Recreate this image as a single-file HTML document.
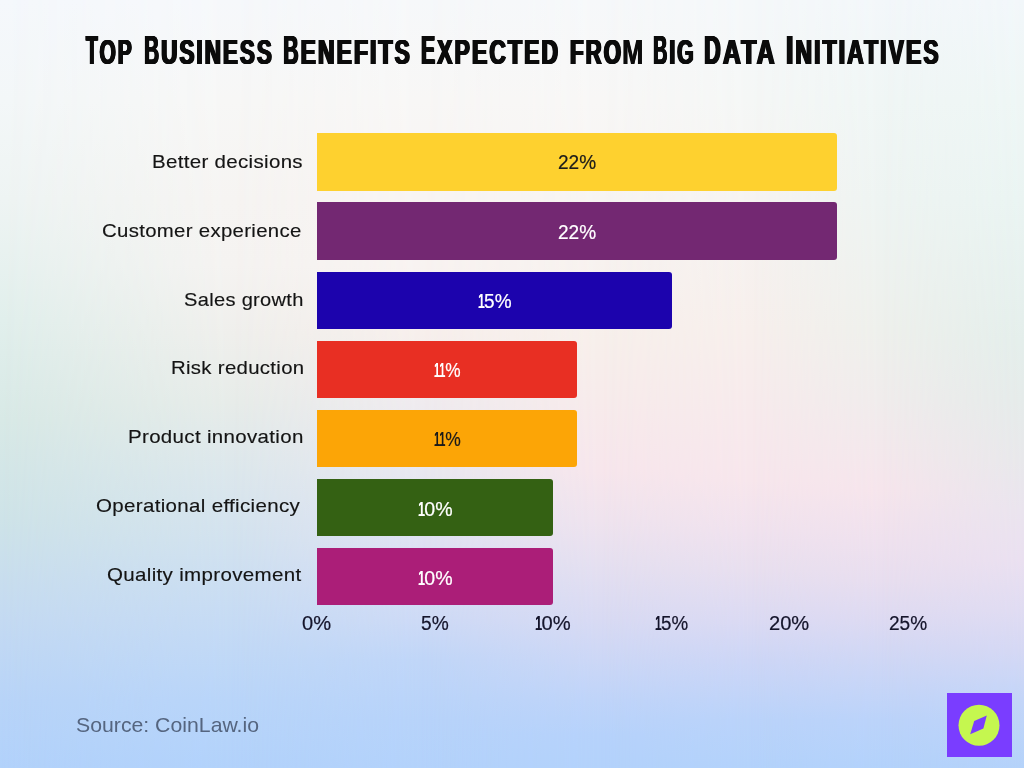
<!DOCTYPE html>
<html lang="en"><head><meta charset="utf-8"><title>Top Business Benefits Expected from Big Data Initiatives</title>
<style>
html,body{margin:0;padding:0}
body{width:1024px;height:768px;overflow:hidden;position:relative;font-family:"Liberation Sans",sans-serif;color:#141414;
background:linear-gradient(180deg,#f6f8fa 0%,#f8f3f1 35%,#e8e8f0 61%,#c0d6f8 86%,#b3d2fb 100%)}
.bg{position:absolute;left:0;top:0;width:1024px;height:768px;display:block}
.bar{position:absolute;left:317.1px;height:57.5px;border-radius:0 3px 3px 0}
.t{position:absolute;white-space:nowrap;transform-origin:0 50%}
.lab{font-size:19px;line-height:24px;letter-spacing:.3px;-webkit-text-stroke:.15px #141414}
.num{font-size:19.6px;line-height:24px;-webkit-text-stroke:.2px currentColor}
.num b{display:inline-block;font-weight:400;transform:scaleX(.64);margin:0 -2.1px 0 -2.5px;text-shadow:-.5px 0 0 currentColor,.5px 0 0 currentColor}
.src{font-size:20.6px;line-height:24px;color:#55657f}
.logo{position:absolute;left:947.1px;top:692.8px;width:64.8px;height:63.8px;background:#7a3dff}
.w{font-weight:700;font-size:40.1px;line-height:48px;color:#0b0b0b;letter-spacing:3.2px;
 text-shadow:-1.4px 0 0 #0b0b0b,1.4px 0 0 #0b0b0b,-0.7px 0 0 #0b0b0b,0.7px 0 0 #0b0b0b}
.w i{font-style:normal;font-size:34.4px;text-transform:uppercase}
.w b{display:inline-block;transform:scaleX(.8);margin:0 -2.8px}
.w b.m{transform:scaleX(1.14);margin:0 1.2px;text-shadow:-.5px 0 0 #0b0b0b,.5px 0 0 #0b0b0b}
h1{margin:0;padding:0;font-size:inherit;font-weight:inherit}
</style></head>
<body>
<svg class="bg" width="1024" height="768" viewBox="0 0 1024 768" preserveAspectRatio="none"><defs><linearGradient id="c0" x1="0" y1="0" x2="0" y2="768" gradientUnits="userSpaceOnUse"><stop offset="0.0000" stop-color="#f5f8fc"/><stop offset="0.1302" stop-color="#f3f7f8"/><stop offset="0.2604" stop-color="#eef4f3"/><stop offset="0.4167" stop-color="#e1efec"/><stop offset="0.5469" stop-color="#d8e9e6"/><stop offset="0.6771" stop-color="#cee3e8"/><stop offset="0.8073" stop-color="#c4daf2"/><stop offset="0.9115" stop-color="#b8d4f8"/><stop offset="1.0000" stop-color="#b2d2fb"/></linearGradient><linearGradient id="c1" x1="0" y1="0" x2="0" y2="768" gradientUnits="userSpaceOnUse"><stop offset="0.0000" stop-color="#f6f8fb"/><stop offset="0.1302" stop-color="#f7f7f6"/><stop offset="0.2604" stop-color="#f6f4f2"/><stop offset="0.3451" stop-color="#f5f3f1"/><stop offset="0.4349" stop-color="#efefec"/><stop offset="0.5247" stop-color="#e7ece9"/><stop offset="0.6146" stop-color="#dce7ec"/><stop offset="0.7044" stop-color="#d2e2ef"/><stop offset="0.8073" stop-color="#c6dbf4"/><stop offset="0.9115" stop-color="#b9d5f9"/><stop offset="1.0000" stop-color="#b2d2fb"/></linearGradient><linearGradient id="c2" x1="0" y1="0" x2="0" y2="768" gradientUnits="userSpaceOnUse"><stop offset="0.0000" stop-color="#f6f8fa"/><stop offset="0.1302" stop-color="#f8f7f6"/><stop offset="0.2552" stop-color="#f8f4f2"/><stop offset="0.3451" stop-color="#f8f3f1"/><stop offset="0.4349" stop-color="#f7efec"/><stop offset="0.5247" stop-color="#efebef"/><stop offset="0.6146" stop-color="#e8e8f0"/><stop offset="0.7044" stop-color="#dfe2f3"/><stop offset="0.8073" stop-color="#cddaf6"/><stop offset="0.8594" stop-color="#c0d6f8"/><stop offset="0.9375" stop-color="#b7d3fa"/><stop offset="1.0000" stop-color="#b3d2fb"/></linearGradient><linearGradient id="c3" x1="0" y1="0" x2="0" y2="768" gradientUnits="userSpaceOnUse"><stop offset="0.0000" stop-color="#f6f8fa"/><stop offset="0.1302" stop-color="#f8f7f6"/><stop offset="0.2604" stop-color="#f7f4f2"/><stop offset="0.4427" stop-color="#f7efeb"/><stop offset="0.5208" stop-color="#f7ebeb"/><stop offset="0.6120" stop-color="#f7e6ec"/><stop offset="0.6771" stop-color="#efe3ee"/><stop offset="0.7292" stop-color="#e6e0f0"/><stop offset="0.8073" stop-color="#d8daf3"/><stop offset="0.8594" stop-color="#ccd7f6"/><stop offset="0.9115" stop-color="#bfd4f9"/><stop offset="0.9570" stop-color="#b6d2fb"/><stop offset="1.0000" stop-color="#b3d2fb"/></linearGradient><linearGradient id="c4" x1="0" y1="0" x2="0" y2="768" gradientUnits="userSpaceOnUse"><stop offset="0.0000" stop-color="#f5f8fa"/><stop offset="0.1302" stop-color="#f5f7f6"/><stop offset="0.2604" stop-color="#f6f3f1"/><stop offset="0.4297" stop-color="#f7efec"/><stop offset="0.6250" stop-color="#f7e6ec"/><stop offset="0.6901" stop-color="#f0e2ee"/><stop offset="0.7422" stop-color="#e8dfef"/><stop offset="0.8073" stop-color="#dbdaf3"/><stop offset="0.8594" stop-color="#cdd6f6"/><stop offset="0.9375" stop-color="#bad3fa"/><stop offset="1.0000" stop-color="#b3d2fb"/></linearGradient><linearGradient id="c5" x1="0" y1="0" x2="0" y2="768" gradientUnits="userSpaceOnUse"><stop offset="0.0000" stop-color="#f3f7fa"/><stop offset="0.1302" stop-color="#f0f6f5"/><stop offset="0.2604" stop-color="#eef4f2"/><stop offset="0.4297" stop-color="#eef0ec"/><stop offset="0.5208" stop-color="#f0ecec"/><stop offset="0.6380" stop-color="#f6e5ec"/><stop offset="0.7031" stop-color="#efe1ee"/><stop offset="0.7552" stop-color="#e8deef"/><stop offset="0.8073" stop-color="#dddaf2"/><stop offset="0.8594" stop-color="#cfd7f5"/><stop offset="0.9375" stop-color="#bbd3fa"/><stop offset="1.0000" stop-color="#b3d2fb"/></linearGradient><linearGradient id="c6" x1="0" y1="0" x2="0" y2="768" gradientUnits="userSpaceOnUse"><stop offset="0.0000" stop-color="#f2f7fa"/><stop offset="0.1302" stop-color="#eef6f5"/><stop offset="0.2604" stop-color="#eaf4f2"/><stop offset="0.4427" stop-color="#e4eeeb"/><stop offset="0.5208" stop-color="#e5ebea"/><stop offset="0.5990" stop-color="#e8e8eb"/><stop offset="0.6641" stop-color="#eae4ee"/><stop offset="0.7292" stop-color="#eae0f0"/><stop offset="0.7943" stop-color="#e0dcf2"/><stop offset="0.8464" stop-color="#d5d8f4"/><stop offset="0.9115" stop-color="#c3d5f8"/><stop offset="1.0000" stop-color="#b4d2fa"/></linearGradient><linearGradient id="r1" x1="0" y1="0" x2="230" y2="0" gradientUnits="userSpaceOnUse"><stop offset="0" stop-color="#000"/><stop offset="1" stop-color="#fff"/></linearGradient><mask id="m1" maskUnits="userSpaceOnUse" x="0" y="0" width="1024" height="768"><rect x="0" y="0" width="1024" height="768" fill="url(#r1)"/></mask><linearGradient id="r2" x1="230" y1="0" x2="420" y2="0" gradientUnits="userSpaceOnUse"><stop offset="0" stop-color="#000"/><stop offset="1" stop-color="#fff"/></linearGradient><mask id="m2" maskUnits="userSpaceOnUse" x="0" y="0" width="1024" height="768"><rect x="0" y="0" width="1024" height="768" fill="url(#r2)"/></mask><linearGradient id="r3" x1="420" y1="0" x2="600" y2="0" gradientUnits="userSpaceOnUse"><stop offset="0" stop-color="#000"/><stop offset="1" stop-color="#fff"/></linearGradient><mask id="m3" maskUnits="userSpaceOnUse" x="0" y="0" width="1024" height="768"><rect x="0" y="0" width="1024" height="768" fill="url(#r3)"/></mask><linearGradient id="r4" x1="600" y1="0" x2="750" y2="0" gradientUnits="userSpaceOnUse"><stop offset="0" stop-color="#000"/><stop offset="1" stop-color="#fff"/></linearGradient><mask id="m4" maskUnits="userSpaceOnUse" x="0" y="0" width="1024" height="768"><rect x="0" y="0" width="1024" height="768" fill="url(#r4)"/></mask><linearGradient id="r5" x1="750" y1="0" x2="880" y2="0" gradientUnits="userSpaceOnUse"><stop offset="0" stop-color="#000"/><stop offset="1" stop-color="#fff"/></linearGradient><mask id="m5" maskUnits="userSpaceOnUse" x="0" y="0" width="1024" height="768"><rect x="0" y="0" width="1024" height="768" fill="url(#r5)"/></mask><linearGradient id="r6" x1="880" y1="0" x2="1024" y2="0" gradientUnits="userSpaceOnUse"><stop offset="0" stop-color="#000"/><stop offset="1" stop-color="#fff"/></linearGradient><mask id="m6" maskUnits="userSpaceOnUse" x="0" y="0" width="1024" height="768"><rect x="0" y="0" width="1024" height="768" fill="url(#r6)"/></mask></defs><rect width="1024" height="768" fill="url(#c0)"/><rect width="1024" height="768" fill="url(#c1)" mask="url(#m1)"/><rect width="1024" height="768" fill="url(#c2)" mask="url(#m2)"/><rect width="1024" height="768" fill="url(#c3)" mask="url(#m3)"/><rect width="1024" height="768" fill="url(#c4)" mask="url(#m4)"/><rect width="1024" height="768" fill="url(#c5)" mask="url(#m5)"/><rect width="1024" height="768" fill="url(#c6)" mask="url(#m6)"/></svg>
<div class="bar" style="top:133.3px;width:520.0px;background:#fed12f"></div>
<div class="bar" style="top:202.4px;width:520.0px;background:#732872"></div>
<div class="bar" style="top:271.5px;width:354.5px;background:#1c03ad"></div>
<div class="bar" style="top:340.6px;width:260.0px;background:#e82f23"></div>
<div class="bar" style="top:409.7px;width:260.0px;background:#fca506"></div>
<div class="bar" style="top:478.8px;width:236.4px;background:#346113"></div>
<div class="bar" style="top:547.9px;width:236.4px;background:#ab1e78"></div>
<h1><span class="t w" style="left:85.86px;top:25.55px;transform:scaleX(0.6101)"><b>T</b><i>op</i></span> <span class="t w" style="left:144.40px;top:25.55px;transform:scaleX(0.6497)"><b>B</b><i>usiness</i></span> <span class="t w" style="left:283.40px;top:25.55px;transform:scaleX(0.6640)"><b>B</b><i>enefits</i></span> <span class="t w" style="left:421.10px;top:25.55px;transform:scaleX(0.6650)"><b>E</b><i>xpected</i></span> <span class="t w" style="left:570.10px;top:25.55px;transform:scaleX(0.6465)"><i>fro<b class="m">m</b></i></span> <span class="t w" style="left:653.20px;top:25.55px;transform:scaleX(0.6153)"><b>B</b><i>ig</i></span> <span class="t w" style="left:704.40px;top:25.55px;transform:scaleX(0.7160)"><b>D</b><i>ata</i></span> <span class="t w" style="left:785.90px;top:25.55px;transform:scaleX(0.6642)">I<i>nitiatives</i></span></h1>
<div class="t lab" style="left:151.53px;top:149.62px;transform:scaleX(1.0783)">Better decisions</div>
<div class="t lab" style="left:102.04px;top:218.57px;transform:scaleX(1.0714)">Customer experience</div>
<div class="t lab" style="left:184.34px;top:287.52px;transform:scaleX(1.0555)">Sales growth</div>
<div class="t lab" style="left:171.10px;top:356.47px;transform:scaleX(1.0713)">Risk reduction</div>
<div class="t lab" style="left:127.96px;top:425.42px;transform:scaleX(1.0788)">Product innovation</div>
<div class="t lab" style="left:96.29px;top:494.37px;transform:scaleX(1.0798)">Operational efficiency</div>
<div class="t lab" style="left:106.72px;top:563.32px;transform:scaleX(1.0806)">Quality improvement</div>
<div class="t num" style="left:558.16px;top:150.42px;color:#1b1b1b;transform:scaleX(0.9712)">22%</div>
<div class="t num" style="left:558.16px;top:219.67px;color:#ffffff;transform:scaleX(0.9712)">22%</div>
<div class="t num" style="left:478.46px;top:288.92px;color:#ffffff;transform:scaleX(0.9700)"><b>1</b>5%</div>
<div class="t num" style="left:433.54px;top:358.17px;color:#ffffff;transform:scaleX(0.8814)"><b>1</b><b>1</b>%</div>
<div class="t num" style="left:433.54px;top:427.42px;color:#1b1b1b;transform:scaleX(0.8930)"><b>1</b><b>1</b>%</div>
<div class="t num" style="left:418.00px;top:496.67px;color:#ffffff;transform:scaleX(0.9994)"><b>1</b>0%</div>
<div class="t num" style="left:418.00px;top:565.92px;color:#ffffff;transform:scaleX(0.9994)"><b>1</b>0%</div>
<div class="t num" style="left:301.91px;top:610.82px;color:#15152b;transform:scaleX(1.0261)">0%</div>
<div class="t num" style="left:420.72px;top:610.82px;color:#15152b;transform:scaleX(0.9779)">5%</div>
<div class="t num" style="left:535.47px;top:610.82px;color:#15152b;transform:scaleX(1.0300)"><b>1</b>0%</div>
<div class="t num" style="left:655.20px;top:610.82px;color:#15152b;transform:scaleX(0.9569)"><b>1</b>5%</div>
<div class="t num" style="left:769.32px;top:610.82px;color:#15152b;transform:scaleX(1.0263)">20%</div>
<div class="t num" style="left:888.88px;top:610.82px;color:#15152b;transform:scaleX(0.9737)">25%</div>
<div class="t src" style="left:76.48px;top:712.69px;transform:scaleX(1.0317)">Source: CoinLaw.io</div>
<div class="logo"><svg width="64.5" height="64.2" viewBox="0 0 64.5 64.2" style="display:block"><circle cx="32" cy="32.3" r="20.5" fill="#c5f74f"/><path d="M39.8 22.6 L36.4 35.5 L23.2 41.3 L27.2 28 Z" fill="#7a3dff"/></svg></div>
</body></html>
